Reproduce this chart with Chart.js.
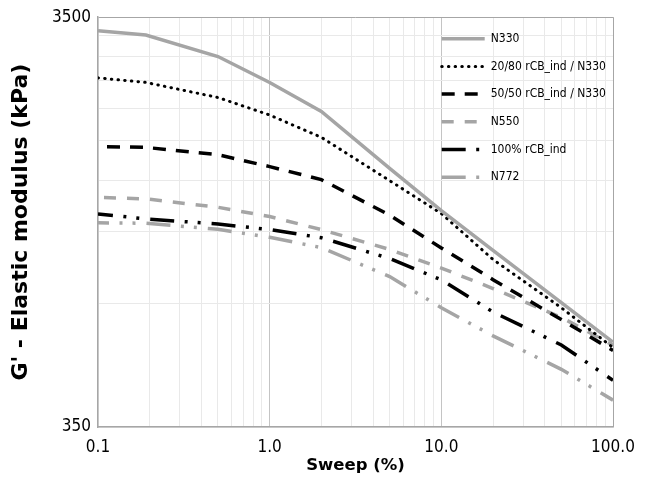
<!DOCTYPE html>
<html>
<head>
<meta charset="utf-8">
<script src="https://cdn.jsdelivr.net/npm/chart.js@4.4.1/dist/chart.umd.min.js"></script>
<style>
    body { margin: 0; background: #fff; }
    #myChart { display: block; }
</style>
</head>
<body>
<canvas id="myChart" width="647" height="481"></canvas>
<script>
    // strain sweep points (%)
    var sweep = [0.1, 0.19, 0.5, 1, 2, 5, 10, 20, 50, 100];

    // G' (kPa) per compound
    var n330 = [3245, 3167, 2806, 2426, 2062, 1497, 1181, 944, 704, 564];
    var rcb2080 = [2489, 2426, 2229, 2020, 1782, 1397, 1161, 897, 684, 547];
    var rcb5050 = [1693, 1684, 1616, 1512, 1405, 1151, 957, 801, 640, 538];
    var n550 = [1272, 1261, 1203, 1142, 1061, 949, 855, 762, 648, 554];
    var rcb100 = [1159, 1127, 1095, 1061, 1014, 902, 800, 668, 555, 455];
    var n772 = [1102, 1100, 1063, 1016, 959, 815, 684, 584, 484, 407];

    // grid / tick values
    var xTicks = [0.1, 0.2, 0.3, 0.4, 0.5, 0.6, 0.7, 0.8, 0.9,
        1, 2, 3, 4, 5, 6, 7, 8, 9,
        10, 20, 30, 40, 50, 60, 70, 80, 90, 100];
    var yTicks = [350, 700, 1050, 1400, 1750, 2100, 2450, 2800, 3150, 3500];
    var yLabels = [350, 3500];

    var gray = '#a5a5a5';
    var frame = '#a6a6a6';
    var font = '"DejaVu Sans Condensed", "DejaVu Sans", sans-serif';
    var titleFont = '"DejaVu Sans", sans-serif';

    function points(ys) {
        return sweep.map(function (x, i) {
            return { x: x, y: ys[i] };
        });
    }

    function isDecade(v) {
        var l = Math.log10(v);
        return Math.abs(l - Math.round(l)) < 1e-9;
    }

    // moves the legend into the upper right of the plot
    var legendSpot = {
        id: 'legendSpot',
        afterLayout: function (chart) {
            var lg = chart.legend;
            var w = lg.width, h = lg.height;
            lg.left = 426;
            lg.top = 17;
            lg.right = lg.left + w;
            lg.bottom = lg.top + h;
        }
    };

    const ctx = document.getElementById('myChart');

    new Chart(ctx, {
        type: 'line',
        data: {
            datasets: [{
                label: 'N330',
                data: points(n330),
                borderColor: gray,
                borderWidth: 3.5,
            },
            {
                label: '20/80 rCB_ind / N330',
                data: points(rcb2080),
                borderColor: '#000',
                borderWidth: 3,
                borderCapStyle: 'round',
                borderDash: [0.5, 6.2],
            },
            {
                label: '50/50 rCB_ind / N330',
                data: points(rcb5050),
                borderColor: '#000',
                borderWidth: 3.5,
                borderDash: [13, 10],
                borderDashOffset: 14,
            },
            {
                label: 'N550',
                data: points(n550),
                borderColor: gray,
                borderWidth: 3.5,
                borderDash: [12, 11],
                borderDashOffset: 17,
            },
            {
                label: '100% rCB_ind',
                data: points(rcb100),
                borderColor: '#000',
                borderWidth: 3.5,
                borderDash: [24, 10.5, 3, 10, 3, 11],
                borderDashOffset: 9,
            },
            {
                label: 'N772',
                data: points(n772),
                borderColor: gray,
                borderWidth: 3.5,
                borderDash: [24, 10.5, 3, 10, 3, 11],
                borderDashOffset: 13,
            }]
        },
        options: {
            responsive: false,
            animation: false,
            layout: {
                padding: { top: 16, right: 34, bottom: 0, left: 0 }
            },
            elements: {
                point: { radius: 0 },
                line: { tension: 0, fill: false }
            },
            plugins: {
                tooltip: { enabled: false },
                legend: {
                    position: 'chartArea',
                    align: 'start',
                    labels: {
                        usePointStyle: true,
                        pointStyle: 'line',
                        pointStyleWidth: 43,
                        padding: 15.7,
                        color: '#000',
                        font: { family: font, size: 12 },
                        // line samples take the dash of their dataset
                        generateLabels: function (chart) {
                            var items = Chart.defaults.plugins.legend.labels.generateLabels(chart);
                            items.forEach(function (item) {
                                var ds = chart.data.datasets[item.datasetIndex];
                                item.strokeStyle = ds.borderColor;
                                item.lineWidth = ds.borderWidth;
                                item.lineDash = ds.borderDash || [];
                                item.lineDashOffset = 0;
                                item.lineCap = ds.borderCapStyle || 'butt';
                            });
                            return items;
                        }
                    }
                },
            },
            scales: {
                x: {
                    type: 'logarithmic',
                    min: 0.1,
                    max: 100,
                    afterBuildTicks: function (scale) {
                        scale.ticks = xTicks.map(function (v) { return { value: v }; });
                    },
                    afterFit: function (scale) {
                        scale.height = 54;
                    },
                    ticks: {
                        autoSkip: false,
                        maxRotation: 0,
                        padding: 10,
                        color: '#000',
                        font: { family: font, size: 17 },
                        callback: function (v) {
                            return isDecade(v) ? v.toFixed(1) : '';
                        }
                    },
                    grid: {
                        drawTicks: false,
                        color: function (c) {
                            var v = c.tick.value;
                            if (v >= 100) return frame;
                            if (v === 1 || v === 10) return '#c4c4c4';
                            return '#e9e9e9';
                        }
                    },
                    border: { color: frame, width: 1.5 },
                    title: {
                        display: true,
                        text: 'Sweep (%)',
                        color: '#000',
                        padding: { top: 0, bottom: 5 },
                        font: { family: titleFont, size: 16.5, weight: 'bold' }
                    }
                },
                y: {
                    type: 'logarithmic',
                    min: 350,
                    max: 3500,
                    afterBuildTicks: function (scale) {
                        scale.ticks = yTicks.map(function (v) { return { value: v }; });
                    },
                    afterFit: function (scale) {
                        scale.width = 98;
                    },
                    ticks: {
                        autoSkip: false,
                        padding: 7,
                        color: '#000',
                        font: { family: font, size: 17 },
                        callback: function (v) {
                            return yLabels.indexOf(v) >= 0 ? String(v) : '';
                        }
                    },
                    grid: {
                        drawTicks: false,
                        color: function (c) {
                            return c.tick.value >= 3500 ? frame : '#e9e9e9';
                        }
                    },
                    border: { color: frame, width: 1.5 },
                    title: {
                        display: true,
                        text: "G' - Elastic modulus (kPa)",
                        color: '#000',
                        padding: { top: 8.5, bottom: 0 },
                        font: { family: titleFont, size: 22, weight: 'bold' }
                    }
                }
            }
        },
        plugins: [legendSpot]
    });
</script>
</body>
</html>
